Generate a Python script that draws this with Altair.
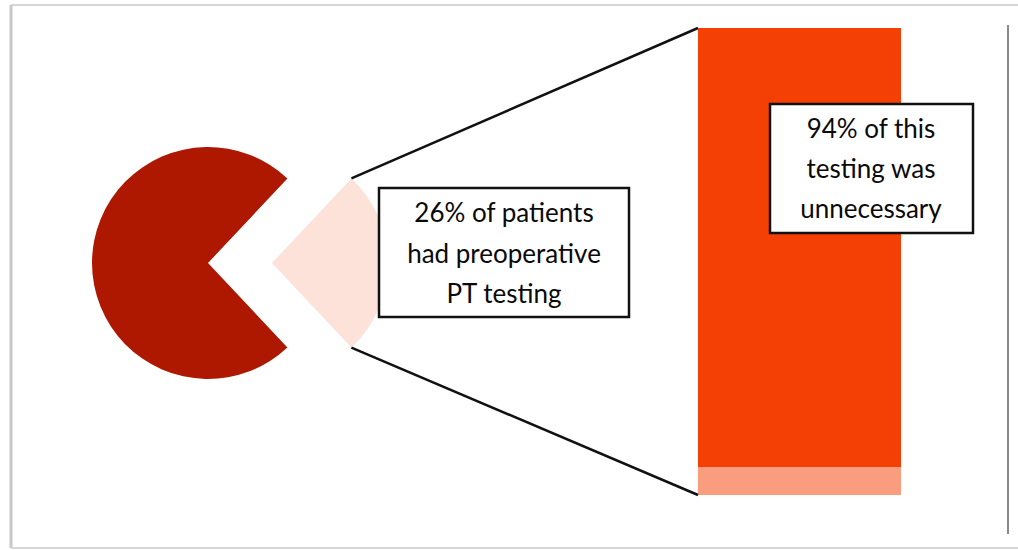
import math
import altair as alt
import pandas as pd

# ---- data ----
pie_cats = ["Had preoperative PT testing", "No preoperative PT testing"]
pie_values = [26, 74]
bar_segs = ["Necessary", "Unnecessary"]
bar_values = [6, 94]
box1_lines = ["26% of patients", "had preoperative", "PT testing"]
box2_lines = ["94% of this", "testing was", "unnecessary"]

color_domain = ["No preoperative PT testing", "Had preoperative PT testing", "Unnecessary", "Necessary"]
color_range = ["#AE1800", "#FCE2D8", "#F43F05", "#FA9C7E"]

W, H = 1018, 550
FONT = "Lato"

# layout
PIE_CX, PIE_CY, PIE_R = 208, 263, 116
EXPLODE = 64
THETA0 = 0.24 * math.pi
BAR_X0, BAR_X1, BAR_TOP, BAR_BOT = 698, 901, 28, 495

color_scale = alt.Scale(domain=color_domain, range=color_range)
theta_scale = alt.Scale(domain=[0, 100], range=[THETA0, THETA0 + 2 * math.pi])

pie_df = pd.DataFrame({"cat": pie_cats, "value": pie_values, "ord": [0, 1]})
bar_df = pd.DataFrame({"seg": bar_segs, "value": bar_values, "ord": [0, 1]})

one = pd.DataFrame({"k": [0]})

pie_base = alt.Chart(pie_df).transform_window(
    end="sum(value)", sort=[alt.SortField("ord")], frame=[None, 0]
).transform_calculate(start="datum.end - datum.value")

dark = pie_base.transform_filter(alt.datum.ord == 1).mark_arc(radius=PIE_R).encode(
    theta=alt.Theta("start:Q", scale=theta_scale),
    theta2="end:Q",
    color=alt.Color("cat:N", scale=color_scale, legend=None),
    x=alt.value(PIE_CX), y=alt.value(PIE_CY),
)
light = pie_base.transform_filter(alt.datum.ord == 0).mark_arc(radius=PIE_R).encode(
    theta=alt.Theta("start:Q", scale=theta_scale),
    theta2="end:Q",
    color=alt.Color("cat:N", scale=color_scale, legend=None),
    x=alt.value(PIE_CX + EXPLODE), y=alt.value(PIE_CY),
)

bar = alt.Chart(bar_df).transform_window(
    top="sum(value)", sort=[alt.SortField("ord")], frame=[None, 0]
).transform_calculate(bottom="datum.top - datum.value").mark_rect().encode(
    x=alt.value(BAR_X0), x2=alt.value(BAR_X1),
    y=alt.Y("bottom:Q", scale=alt.Scale(domain=[0, 100], range=[BAR_BOT, BAR_TOP]), axis=None),
    y2="top:Q",
    color=alt.Color("seg:N", scale=color_scale, legend=None),
)

# connector lines from exploded slice corners to bar corners
lcx = PIE_CX + EXPLODE
top_corner = (lcx + PIE_R * math.sin(THETA0), PIE_CY - PIE_R * math.cos(THETA0))
th1 = THETA0 + 2 * math.pi * pie_values[0] / 100
bot_corner = (lcx + PIE_R * math.sin(th1), PIE_CY - PIE_R * math.cos(th1))

conn_top = alt.Chart(one).mark_rule(color="#111111", strokeWidth=2.5).encode(
    x=alt.value(top_corner[0]), y=alt.value(top_corner[1]),
    x2=alt.value(BAR_X0), y2=alt.value(BAR_TOP),
)
conn_bot = alt.Chart(one).mark_rule(color="#111111", strokeWidth=2.5).encode(
    x=alt.value(bot_corner[0]), y=alt.value(bot_corner[1]),
    x2=alt.value(BAR_X0), y2=alt.value(BAR_BOT),
)

def box(x0, y0, x1, y1):
    return alt.Chart(one).mark_rect(fill="white", stroke="#111111", strokeWidth=2.5).encode(
        x=alt.value(x0), x2=alt.value(x1), y=alt.value(y0), y2=alt.value(y1)
    )

def label(lines, cx, ys):
    out = []
    for t, yy in zip(lines, ys):
        out.append(alt.Chart(one).mark_text(
            text=t, font=FONT, fontSize=26, color="#0a0a0a",
            align="center", baseline="middle",
        ).encode(x=alt.value(cx), y=alt.value(yy)))
    return out

box1 = box(379, 188, 629, 317)
txt1 = label(box1_lines, 504, [214, 255, 295])
box2 = box(770, 104, 973, 233)
txt2 = label(box2_lines, 871, [130, 170, 210])

# frame
frame_top = alt.Chart(one).mark_rule(color="#d6d6d6", strokeWidth=2).encode(
    x=alt.value(11), x2=alt.value(W), y=alt.value(5))
frame_left = alt.Chart(one).mark_rule(color="#c8c8c8", strokeWidth=3).encode(
    x=alt.value(11), y=alt.value(5), y2=alt.value(548))
frame_bot = alt.Chart(one).mark_rule(color="#d6d6d6", strokeWidth=2).encode(
    x=alt.value(11), x2=alt.value(W), y=alt.value(548))
right_line = alt.Chart(one).mark_rule(color="#8a8a8a", strokeWidth=2).encode(
    x=alt.value(1008), y=alt.value(25), y2=alt.value(534))

chart = alt.layer(
    frame_top, frame_left, frame_bot, right_line,
    dark, light, bar, conn_top, conn_bot, box1, *txt1, box2, *txt2,
).properties(
    width=W, height=H, autosize=alt.AutoSizeParams(type="none"), padding=0,
).configure_view(stroke=None)

chart.save("out.html", embed_options={"renderer": "svg", "actions": False})
